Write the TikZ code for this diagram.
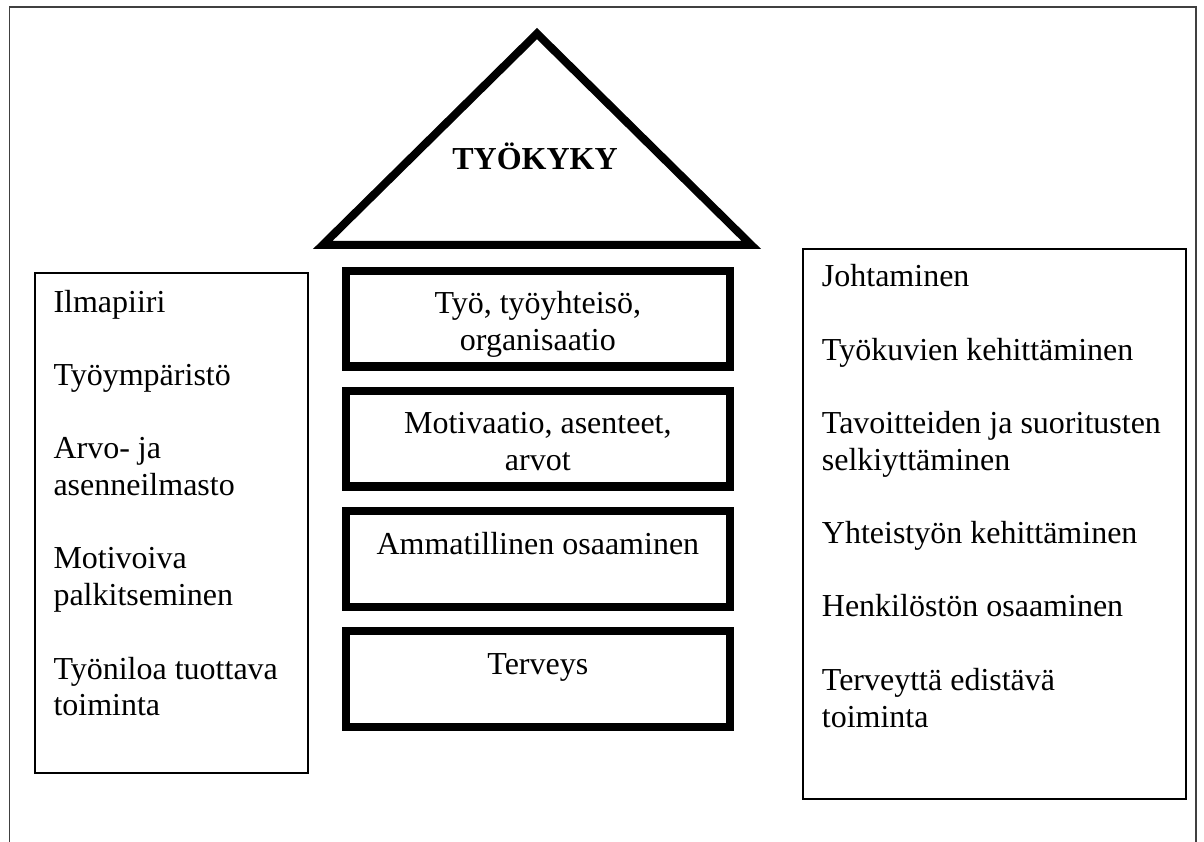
\documentclass[tikz,border=0pt]{standalone}
\usepackage{fontspec}
\setmainfont{Liberation Serif}
\begin{document}
\begin{tikzpicture}[x=1pt,y=-1pt, line join=miter,
  pillar/.style={draw, line width=8.3pt, minimum width=383.7pt, minimum height=95.5pt, inner sep=0pt},
  sidebox/.style={draw, line width=2pt, inner sep=0pt},
  txt/.style={inner sep=0pt, font=\fontsize{32}{36.8}\selectfont},
  ltxt/.style={txt, anchor=base west},
  ctxt/.style={txt, anchor=base},
]
\useasboundingbox (0,0) rectangle (1204,842);
% outer frame
\coordinate (fbl) at (9.5,860);
\coordinate (ftl) at (9.5,7);
\coordinate (ftr) at (1196,7);
\coordinate (fbr) at (1196,860);
\draw[black!75, line width=1.4pt] (fbl) -- (ftl) -- (ftr) -- (fbr);
% roof
\coordinate (roofL) at (322.7,245);
\coordinate (roofT) at (537,33.6);
\coordinate (roofR) at (751.3,245);
\draw[line width=8pt] (roofL) -- (roofT) -- (roofR) -- cycle;
\node[ctxt, font=\fontsize{32}{36.8}\selectfont\bfseries] (tyokyky) at (535,170) {TYÖKYKY};
% pillars
\node[pillar] (p1) at (537.85,318.85) {};
\node[pillar] (p2) at (537.85,438.85) {};
\node[pillar] (p3) at (537.85,559) {};
\node[pillar] (p4) at (537.85,679) {};
\node[ctxt] (p1a) at (537.85,313.3) {Työ, työyhteisö,};
\node[ctxt] (p1b) at (537.85,350) {organisaatio};
\node[ctxt] (p2a) at (537.85,433.5) {Motivaatio, asenteet,};
\node[ctxt] (p2b) at (537.85,470.2) {arvot};
\node[ctxt] (p3a) at (537.85,554) {Ammatillinen osaaminen};
\node[ctxt] (p4a) at (537.85,674) {Terveys};
% left box
\node[sidebox, minimum width=273.3pt, minimum height=500.3pt, anchor=north west] (L) at (33.7,271.7) {};
\node[ltxt] (l1) at (53.3,312) {Ilmapiiri};
\node[ltxt] (l2) at (53.3,385.4) {Työympäristö};
\node[ltxt] (l3a) at (53.3,458.8) {Arvo- ja};
\node[ltxt] (l3b) at (53.3,495.5) {asenneilmasto};
\node[ltxt] (l4a) at (53.3,568.9) {Motivoiva};
\node[ltxt] (l4b) at (53.3,605.6) {palkitseminen};
\node[ltxt] (l5a) at (53.3,679) {Työniloa tuottava};
\node[ltxt] (l5b) at (53.3,715.7) {toiminta};
% right box
\node[sidebox, minimum width=383.3pt, minimum height=550.3pt, anchor=north west] (R) at (801.7,247.7) {};
\node[ltxt] (r1) at (821.7,286.7) {Johtaminen};
\node[ltxt] (r2) at (821.7,360) {Työkuvien kehittäminen};
\node[ltxt] (r3a) at (821.7,433.4) {Tavoitteiden ja suoritusten};
\node[ltxt] (r3b) at (821.7,470) {selkiyttäminen};
\node[ltxt] (r4) at (821.7,543.5) {Yhteistyön kehittäminen};
\node[ltxt] (r5) at (821.7,616.9) {Henkilöstön osaaminen};
\node[ltxt] (r6a) at (821.7,690.3) {Terveyttä edistävä};
\node[ltxt] (r6b) at (821.7,727) {toiminta};
\end{tikzpicture}
\end{document}
